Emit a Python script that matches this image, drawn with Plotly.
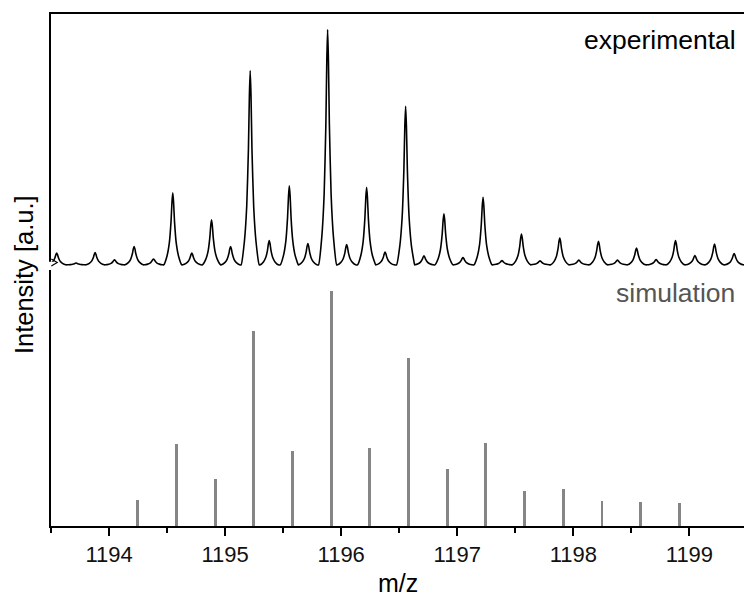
import plotly.graph_objects as go

# experimental spectrum: peak centres (m/z) and heights (normalised, max = 100)
exp_mz = [1193.549, 1193.716, 1193.880, 1194.047, 1194.216, 1194.383,
          1194.549, 1194.713, 1194.883, 1195.047, 1195.216, 1195.380,
          1195.553, 1195.713, 1195.883, 1196.047, 1196.219, 1196.378,
          1196.555, 1196.713, 1196.885, 1197.049, 1197.222, 1197.385,
          1197.553, 1197.713, 1197.883, 1198.047, 1198.216, 1198.380,
          1198.544, 1198.713, 1198.880, 1199.047, 1199.216, 1199.385]
exp_int = [5.0, 0.8, 5.2, 2.1, 7.8, 2.5,
           30.6, 5.0, 19.1, 7.8, 82.6, 10.3,
           33.6, 9.0, 100.0, 8.6, 32.9, 5.4,
           67.4, 3.8, 21.7, 3.1, 28.7, 1.8,
           13.1, 1.7, 11.4, 2.0, 10.0, 2.0,
           7.1, 2.2, 10.3, 3.9, 8.8, 4.8]

# simulated isotope pattern
sim_mz = [1194.247, 1194.578, 1194.915, 1195.247, 1195.581, 1195.915,
          1196.247, 1196.581, 1196.915, 1197.245, 1197.581, 1197.915,
          1198.247, 1198.578, 1198.915]
sim_int = [11.0, 35.0, 20.0, 83.0, 31.7, 100.0,
           33.1, 71.3, 24.1, 35.1, 15.0, 15.9,
           10.5, 10.1, 9.6]

x_ticks = [1194, 1195, 1196, 1197, 1198, 1199]

EXP_OFFSET = 111
Y_MAX = 217.6
# peak line shape (offset in m/z, fraction of peak height)
PROFILE_DX = [-0.078, -0.05, -0.03, -0.015, -0.007, 0, 0.007, 0.015, 0.03, 0.05, 0.078]
PROFILE_FRAC = [0.0, 0.12, 0.3, 0.6, 0.87, 1.0, 0.87, 0.6, 0.3, 0.12, 0.0]

trace_x, trace_y = [1193.45], [EXP_OFFSET]
for c, h in zip(exp_mz, exp_int):
    for dx, f in zip(PROFILE_DX, PROFILE_FRAC):
        trace_x.append(c + dx)
        trace_y.append(EXP_OFFSET + h * f)
trace_x.append(1199.6)
trace_y.append(EXP_OFFSET)

fig = go.Figure()
fig.add_trace(go.Bar(x=sim_mz, y=sim_int, width=0.025,
                     marker=dict(color="#858585", line=dict(width=0))))
fig.add_trace(go.Scatter(x=trace_x, y=trace_y, mode="lines",
                         line=dict(color="black", width=1.6, shape="spline", smoothing=0.5)))

# axis break mark on the left axis
fig.add_shape(type="rect", xref="paper", yref="y", x0=-0.01, x1=0.006,
              y0=EXP_OFFSET - 2.2, y1=EXP_OFFSET + 1.3,
              fillcolor="white", line=dict(width=0), layer="above")
fig.add_shape(type="path", xref="paper", yref="y",
              path=f"M 0.0005 {EXP_OFFSET + 2.5} L 0.009 {EXP_OFFSET + 1.0} L 0.0005 {EXP_OFFSET - 0.5}",
              line=dict(color="black", width=1.2), layer="above")

font = "Arial, Liberation Sans, sans-serif"
fig.add_annotation(x=1, y=206.5, xref="paper", yref="y", xanchor="right", yanchor="middle",
                   text="experimental", showarrow=False, xshift=-6,
                   font=dict(family=font, size=26.5, color="black"))
fig.add_annotation(x=1, y=99, xref="paper", yref="y", xanchor="right",
                   yanchor="middle", text="simulation", showarrow=False, xshift=-7,
                   font=dict(family=font, size=26.5, color="#555555"))
# axis titles
fig.add_annotation(x=0.5, y=0, xref="paper", yref="paper", yshift=-57,
                   xanchor="center", yanchor="middle", showarrow=False,
                   text="m/z", font=dict(family=font, size=25, color="black"))
fig.add_annotation(x=0, y=0.49, xref="paper", yref="paper", xshift=-27,
                   xanchor="center", yanchor="middle", showarrow=False, textangle=-90,
                   text="Intensity [a.u.]", font=dict(family=font, size=25.5, color="black"))

fig.update_layout(
    width=744, height=597,
    margin=dict(l=51, r=0, t=14, b=71, autoexpand=False),
    plot_bgcolor="white", paper_bgcolor="white",
    showlegend=False, bargap=0,
    font=dict(family=font, color="black"),
    xaxis=dict(range=[1193.5, 1199.47], tickvals=x_ticks, ticks="outside",
               ticklen=8, tickwidth=1.5, tickcolor="black", automargin=False,
               showline=True, linecolor="black", linewidth=1.5, mirror=True,
               showgrid=False, zeroline=False,
               tickfont=dict(size=22, family=font, color="#111"),
               minor=dict(dtick=0.5, tick0=1193.5, ticks="outside", ticklen=5,
                          tickwidth=1.5, tickcolor="black", showgrid=False)),
    yaxis=dict(range=[0, Y_MAX], showticklabels=False, ticks="", automargin=False,
               showline=True, linecolor="black", linewidth=1.5,
               showgrid=False, zeroline=False),
)

fig.write_html("out.html", config={"displayModeBar": False},
               post_script="document.body.style.margin='0';document.body.style.overflow='hidden';")
